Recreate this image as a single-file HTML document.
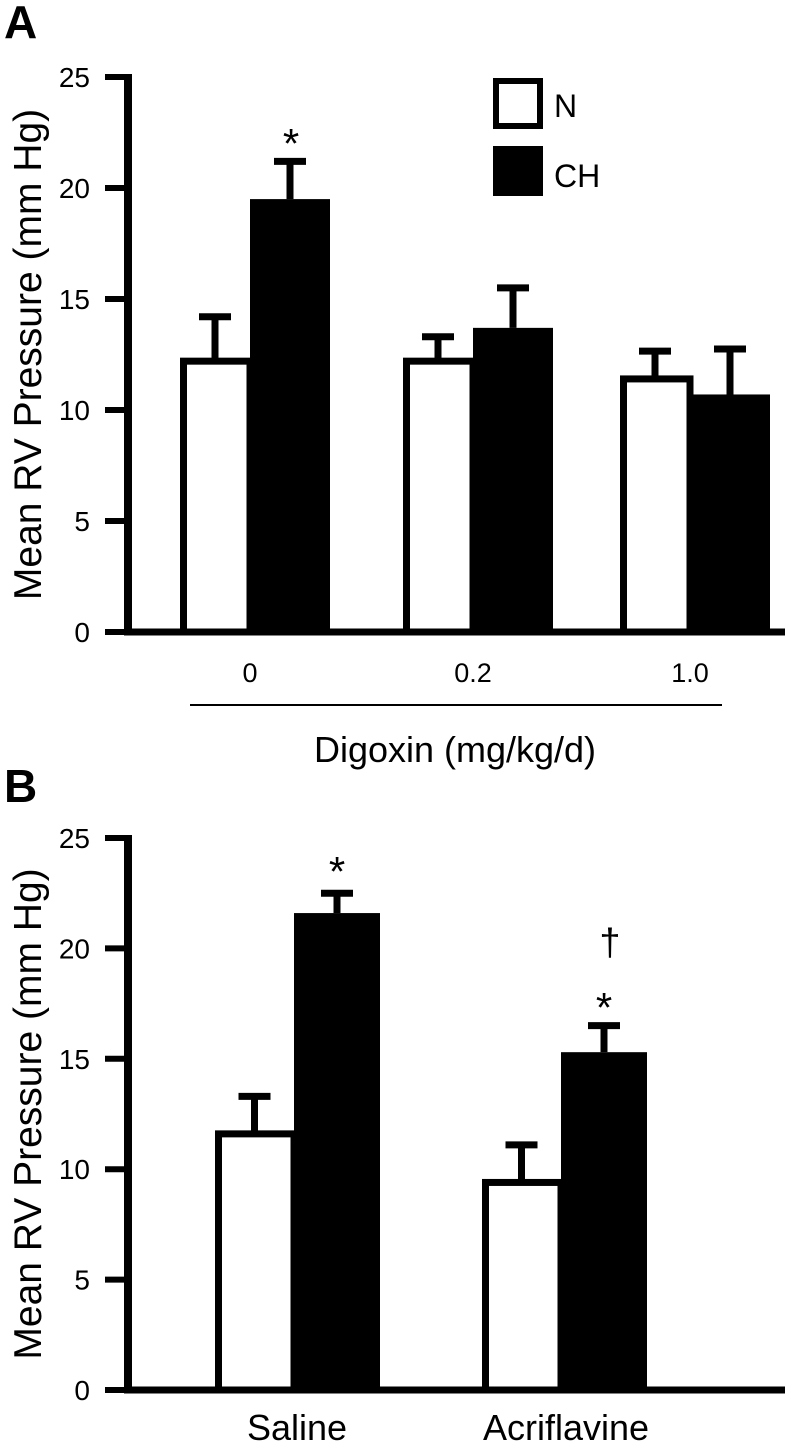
<!DOCTYPE html>
<html><head><meta charset="utf-8"><style>
html,body{margin:0;padding:0;background:#fff;}
svg{display:block;font-family:"Liberation Sans",Arial,sans-serif;}
</style></head><body>
<svg id="chart" width="785" height="1455" viewBox="0 0 785 1455">
<g id="pa"></g>
<g id="pb"></g>
</svg>
<script>
const catsA = ["0","0.2","1.0"];
const nA = [12.2,12.2,11.4];
const nErrA = [14.2,13.3,12.65];
const chA = [19.5,13.7,10.7];
const chErrA = [21.2,15.5,12.75];
const catsB = ["Saline","Acriflavine"];
const nB = [11.6,9.4];
const nErrB = [13.3,11.1];
const chB = [21.6,15.3];
const chErrB = [22.5,16.5];
const ticks = [0,5,10,15,20,25];

const NS="http://www.w3.org/2000/svg";
function mk(parent,tag,attrs,text){const e=document.createElementNS(NS,tag);for(const k in attrs)e.setAttribute(k,attrs[k]);if(text!==undefined)e.textContent=text;parent.appendChild(e);return e;}

function panel(g,cfg){
  const y=v=>cfg.y0-v*(cfg.y0-cfg.y25)/25;
  cfg.cats.forEach((c,i)=>{
    const gx=cfg.groupX[i];
    const nx=gx-cfg.nw, cx=gx;
    let e=mk(g,"line",{x1:nx+cfg.nw/2,x2:nx+cfg.nw/2,y1:y(cfg.n[i]),y2:y(cfg.nErr[i]),stroke:"#000","stroke-width":7});
    
    
    e=mk(g,"line",{x1:nx+cfg.nw/2-16,x2:nx+cfg.nw/2+16,y1:y(cfg.nErr[i]),y2:y(cfg.nErr[i]),stroke:"#000","stroke-width":7});
    
    
    e=mk(g,"line",{x1:cx+cfg.cw/2,x2:cx+cfg.cw/2,y1:y(cfg.ch[i]),y2:y(cfg.chErr[i]),stroke:"#000","stroke-width":7});
    
    
    e=mk(g,"line",{x1:cx+cfg.cw/2-16,x2:cx+cfg.cw/2+16,y1:y(cfg.chErr[i]),y2:y(cfg.chErr[i]),stroke:"#000","stroke-width":7});
    
    
    e=mk(g,"rect",{x:nx+3.5,y:y(cfg.n[i]),width:cfg.nw-3.5,height:cfg.y0-y(cfg.n[i]),fill:"#fff",stroke:"#000","stroke-width":7});
    
    
    e=mk(g,"rect",{x:cx,y:y(cfg.ch[i]),width:cfg.cw,height:cfg.y0-y(cfg.ch[i]),fill:"#000"});
    
    
    e=mk(g,"text",{x:cfg.catLabelX[i],y:cfg.catLabelY,"text-anchor":"middle","font-size":cfg.catSize},c);
    
    
  });
  let a=mk(g,"line",{x1:cfg.ax,x2:cfg.ax,y1:cfg.y25-3,y2:cfg.y0+3.5,stroke:"#000","stroke-width":8});
  
  
  a=mk(g,"line",{x1:cfg.ax-4,x2:785,y1:cfg.y0,y2:cfg.y0,stroke:"#000","stroke-width":7});
  
  
  ticks.forEach(t=>{
    let l=mk(g,"line",{x1:cfg.ax-23,x2:cfg.ax,y1:y(t),y2:y(t),stroke:"#000","stroke-width":6});
    
    
    l=mk(g,"text",{x:90,y:y(t)+10,"text-anchor":"end","font-size":28},String(t));
    
    
  });
  const my=(cfg.y0+cfg.y25)/2;
  a=mk(g,"text",{x:0,y:0,transform:`translate(41,${my}) rotate(-90)`,"text-anchor":"middle","font-size":39},"Mean RV Pressure (mm Hg)");
  
  
}

const pa=document.getElementById("pa"), pb=document.getElementById("pb");
panel(pa,{cats:catsA,n:nA,nErr:nErrA,ch:chA,chErr:chErrA,y0:632,y25:77,ax:128,groupX:[250,473,690],nw:70,cw:80,catLabelX:[250,473,690],catLabelY:682,catSize:27});
panel(pb,{cats:catsB,n:nB,nErr:nErrB,ch:chB,chErr:chErrB,y0:1390,y25:838,ax:128,groupX:[294,561],nw:79,cw:86,catLabelX:[297,566],catLabelY:1440,catSize:36});

function t(g,attrs,txt,name){const e=mk(g,"text",attrs,txt);return e;}
t(pa,{x:4,y:38,"font-size":46,"font-weight":"bold"},"A","panel-label-a");
t(pb,{x:4,y:802,"font-size":46,"font-weight":"bold"},"B","panel-label-b");
t(pa,{x:291,y:158,"text-anchor":"middle","font-size":42},"*","significance-star-0");
t(pb,{x:337,y:886,"text-anchor":"middle","font-size":42},"*","significance-star-saline");
t(pb,{x:604,y:1022,"text-anchor":"middle","font-size":42},"*","significance-star-acriflavine");
t(pb,{x:610,y:955,"text-anchor":"middle","font-size":38},"†","dagger-acriflavine");
let l=mk(pa,"line",{x1:190,x2:722,y1:705,y2:705,stroke:"#000","stroke-width":2});


t(pa,{x:455,y:762,"text-anchor":"middle","font-size":36},"Digoxin (mg/kg/d)","x-axis-title");
let lg=mk(pa,"g",{});


let r=mk(lg,"rect",{x:496,y:81,width:44,height:45,fill:"#fff",stroke:"#000","stroke-width":6});


r=mk(lg,"rect",{x:493,y:146,width:50,height:50,fill:"#000"});


t(lg,{x:554,y:117,"font-size":32},"N","legend-entry-n");
t(lg,{x:554,y:187,"font-size":32},"CH","legend-entry-ch");
</script>
</body></html>
